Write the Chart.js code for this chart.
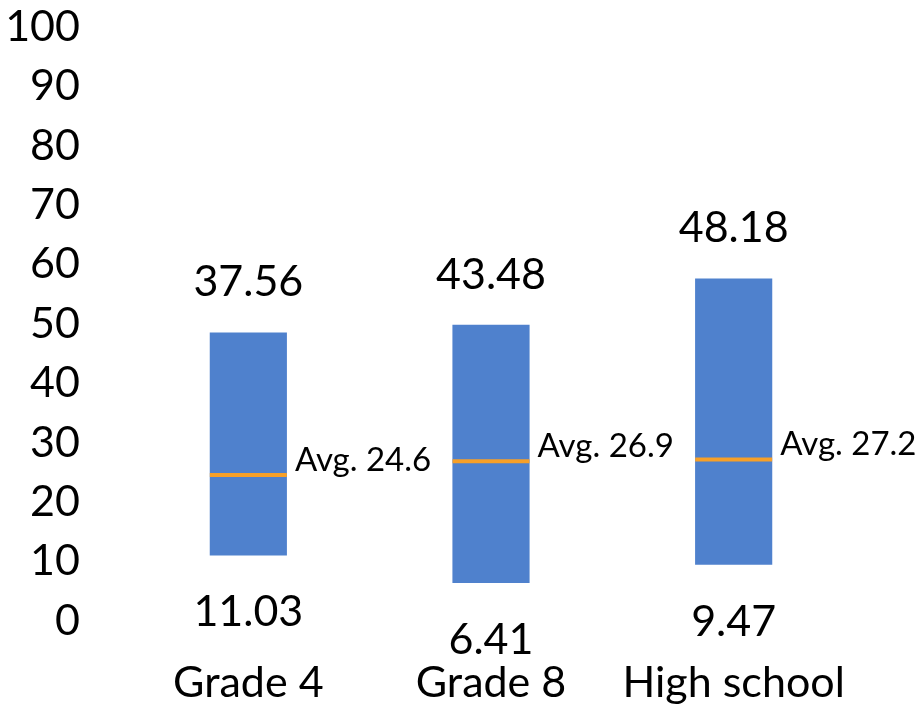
<!DOCTYPE html>
<html>
<head>
<meta charset="utf-8">
<script src="https://cdn.jsdelivr.net/npm/chart.js@4.4.1/dist/chart.umd.min.js"></script>
<style>
  html, body { margin: 0; padding: 0; background: #ffffff; }
  #wrap { width: 922px; height: 705px; position: relative; }
</style>
</head>
<body>
<div id="wrap"><canvas id="chart"></canvas></div>
<script>
// Score ranges by level: lowest value, spread above it, and the average
const categories = ['Grade 4', 'Grade 8', 'High school'];
const lowValues = [11.03, 6.41, 9.47];
const rangeValues = [37.56, 43.48, 48.18];
const avgValues = [24.6, 26.9, 27.2];
const yTicks = [0, 10, 20, 30, 40, 50, 60, 70, 80, 90, 100];

const FONT = 'Lato, "Open Sans", sans-serif';
const BLUE = '#4f81cd';
const ORANGE = '#f7a028';
const MAIN_SIZE = 43;
const AVG_SIZE = 33;

// floating bars span [low, low + range]
const floatingBars = lowValues.map((lo, i) => [lo, lo + rangeValues[i]]);

const labelPlugin = {
  id: 'rangeLabels',
  afterDatasetsDraw(chart) {
    const ctx = chart.ctx;
    const bars = chart.getDatasetMeta(0).data;
    const avgPts = chart.getDatasetMeta(1).data;
    ctx.save();
    ctx.fillStyle = '#000000';
    ctx.textAlign = 'center';
    ctx.textBaseline = 'middle';
    ctx.font = MAIN_SIZE + 'px ' + FONT;
    bars.forEach((bar, i) => {
      const top = Math.min(bar.y, bar.base);
      const bottom = Math.max(bar.y, bar.base);
      ctx.fillText(rangeValues[i].toFixed(2), bar.x, top - 50);
      ctx.fillText(lowValues[i].toFixed(2), bar.x, bottom + 57);
    });
    ctx.font = AVG_SIZE + 'px ' + FONT;
    ctx.textAlign = 'left';
    avgPts.forEach((pt, i) => {
      const half = bars[i].width / 2;
      ctx.fillText('Avg. ' + avgValues[i].toFixed(1), pt.x + half + 8, pt.y - 15);
    });
    ctx.restore();
  }
};

new Chart(document.getElementById('chart'), {
  data: {
    labels: categories,
    datasets: [
      {
        type: 'bar',
        label: 'Range',
        data: floatingBars,
        backgroundColor: BLUE,
        borderWidth: 0,
        barPercentage: 1,
        categoryPercentage: 0.318,
        order: 2
      },
      {
        type: 'line',
        label: 'Average',
        data: avgValues,
        showLine: false,
        pointStyle: 'line',
        pointRadius: 38.5,
        pointHoverRadius: 38.5,
        borderColor: ORANGE,
        pointBorderColor: ORANGE,
        pointBorderWidth: 4,
        borderWidth: 4,
        order: 1
      }
    ]
  },
  options: {
    responsive: true,
    maintainAspectRatio: false,
    animation: false,
    events: [],
    layout: { autoPadding: false, padding: { left: 0, right: 67, top: 27, bottom: 0 } },
    plugins: {
      legend: { display: false },
      tooltip: { enabled: false }
    },
    scales: {
      x: {
        offset: true,
        grid: { display: false, drawTicks: false },
        border: { display: false },
        ticks: {
          color: '#000000',
          font: { family: FONT, size: MAIN_SIZE },
          padding: 36,
          maxRotation: 0,
          autoSkip: false
        },
        afterFit(scale) { scale.height = 84; }
      },
      y: {
        min: 0,
        max: 100,
        afterBuildTicks(scale) { scale.ticks = yTicks.map(v => ({ value: v })); },
        grid: { display: false, drawTicks: false },
        border: { display: false },
        ticks: {
          color: '#000000',
          font: { family: FONT, size: MAIN_SIZE },
          padding: 47
        },
        afterFit(scale) {
          scale.width = 127;
          scale.paddingTop = 0;
          scale.paddingBottom = 0;
        }
      }
    }
  },
  plugins: [labelPlugin]
});
</script>
</body>
</html>
